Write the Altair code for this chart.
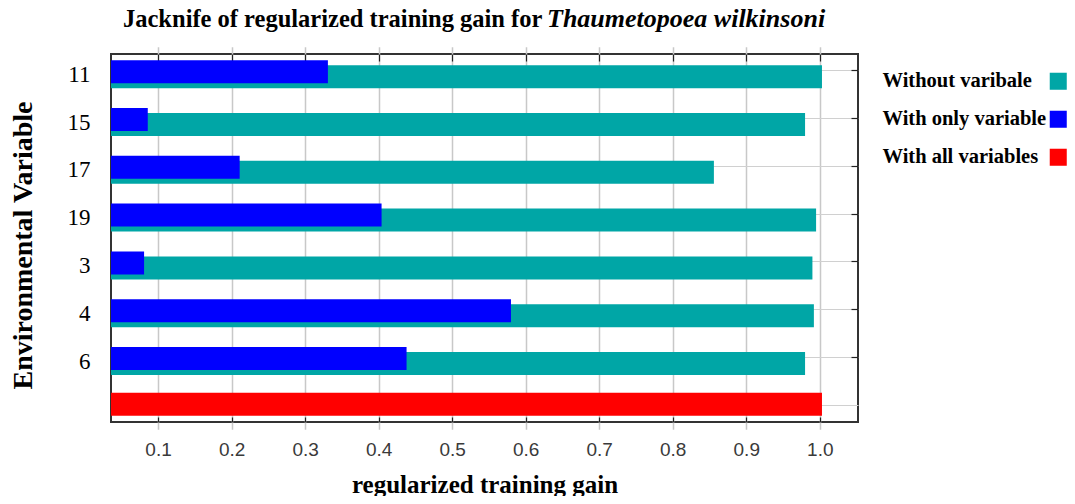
import altair as alt
import pandas as pd

# ---- data ----
variables = ["11", "15", "17", "19", "3", "4", "6"]
without_variable = [1.003, 0.980, 0.856, 0.995, 0.990, 0.992, 0.980]
with_only_variable = [0.331, 0.086, 0.211, 0.404, 0.081, 0.580, 0.438]
all_row = "all"
with_all_variables = [1.003]
series_names = ["Without varibale", "With only variable", "With all variables"]
series_colors = ["#00A6A6", "#0000FF", "#FF0000"]
x_ticks = [0.1, 0.2, 0.3, 0.4, 0.5, 0.6, 0.7, 0.8, 0.9, 1.0]
title_main = "Jacknife of regularized training gain for"
title_species = "Thaumetopoea wilkinsoni"
x_title = "regularized training gain"
y_title = "Environmental Variable"

rows = variables + [all_row]
records = []
for v, w in zip(variables, without_variable):
    records.append({"row": v, "gain": w, "series": series_names[0]})
for v, w in zip(variables, with_only_variable):
    records.append({"row": v, "gain": w, "series": series_names[1]})
for w in with_all_variables:
    records.append({"row": all_row, "gain": w, "series": series_names[2]})
df = pd.DataFrame(records)

SERIF = "Liberation Serif"
SANS = "Liberation Sans"

x_scale = alt.Scale(domain=[0.036, 1.052], nice=False, zero=False)
# bands slightly larger than the frame (top and bottom rows are cut by the frame)
y_scale = alt.Scale(domain=rows, range=[-7.2, 375.2], paddingOuter=0, paddingInner=0)
color = alt.Color(
    "series:N",
    scale=alt.Scale(domain=series_names, range=series_colors),
    sort=series_names,
    legend=alt.Legend(
        title=None, orient="none", legendX=937, legendY=17, padding=0,
        symbolType="square", symbolSize=290, symbolStrokeWidth=0, symbolOpacity=1,
        labelFont=SERIF, labelFontWeight="bold", labelFontSize=20.5, labelColor="black",
        labelAlign="left", labelOffset={"expr": "-186"}, labelLimit=400, rowPadding=17,
    ),
)

x_main_axis = alt.Axis(
    values=x_ticks, format=".1f", title=x_title, grid=True, gridColor="#c8c8c8",
    gridWidth=1.5, ticks=False, tickSize=0, domain=False,
    labelFont=SANS, labelFontSize=19, labelColor="#3a3a3a", labelPadding=33,
    labelBaseline="alphabetic",
    titleFont=SERIF, titleFontSize=25, titleFontWeight="bold", titleColor="black",
    titleBaseline="alphabetic", titleY=70,
)
y_main_axis = alt.Axis(
    title=y_title, grid=True, gridColor="#d0d0d0", gridWidth=1.2, bandPosition=0.5,
    ticks=False, tickSize=0, domain=False,
    labelExpr="datum.value == 'all' ? '' : datum.value",
    labelFont=SERIF, labelFontSize=23, labelColor="black", labelPadding=21,
    labelBaseline="middle", labelOffset=4,
    titleFont=SERIF, titleFontSize=28, titleFontWeight="bold", titleColor="black",
    titleBaseline="alphabetic", titleX=-80, titleY=191,
)

base = alt.Chart(df)

teal = base.transform_filter(alt.datum.series == series_names[0]).mark_bar(
    size=23, yOffset=6, clip=True
).encode(
    x=alt.X("gain:Q", scale=x_scale, axis=x_main_axis),
    y=alt.Y("row:N", scale=y_scale, sort=rows, axis=y_main_axis),
    color=color,
)

blue = base.transform_filter(alt.datum.series == series_names[1]).mark_bar(
    size=23, yOffset=1, clip=True
).encode(
    x=alt.X("gain:Q", scale=x_scale, axis=None),
    y=alt.Y("row:N", scale=y_scale, sort=rows, axis=None),
    color=color,
)

red = base.transform_filter(alt.datum.series == series_names[2]).mark_bar(
    size=23, yOffset=-1, clip=True
).encode(
    x=alt.X("gain:Q", scale=x_scale, axis=None),
    y=alt.Y("row:N", scale=y_scale, sort=rows, axis=None),
    color=color,
)

# inward tick marks on the top and right edges of the frame
ticks_tr = base.mark_point(opacity=0).encode(
    x=alt.X("gain:Q", scale=x_scale, axis=alt.Axis(
        orient="top", values=x_ticks, labels=False, title=None, grid=False,
        domain=False, ticks=True, tickSize=7, tickColor="#222", tickWidth=1.2,
        offset={"expr": "-7"})),
    y=alt.Y("row:N", scale=y_scale, sort=rows, axis=alt.Axis(
        orient="right", labels=False, title=None, grid=False, domain=False,
        ticks=True, tickSize=7, tickColor="#222", tickWidth=1.2,
        offset={"expr": "-7"}, bandPosition=0.5, values=variables)),
)
# inward tick marks on the bottom edge
ticks_b = base.mark_point(opacity=0).encode(
    x=alt.X("gain:Q", scale=x_scale, axis=alt.Axis(
        orient="bottom", values=x_ticks, labels=False, title=None, grid=False,
        domain=False, ticks=True, tickSize=5, tickColor="#222", tickWidth=1.2,
        offset={"expr": "-5"})),
    y=alt.Y("row:N", scale=y_scale, sort=rows, axis=None),
)

title1 = alt.Chart(pd.DataFrame({"t": [title_main]})).mark_text(
    align="left", baseline="alphabetic", font=SERIF, fontWeight="bold",
    fontSize=24.5, color="black"
).encode(text="t:N", x=alt.value(12), y=alt.value(-27))

title2 = alt.Chart(pd.DataFrame({"t": [title_species]})).mark_text(
    align="left", baseline="alphabetic", font=SERIF, fontWeight="bold",
    fontStyle="italic", fontSize=26, color="black"
).encode(text="t:N", x=alt.value(436), y=alt.value(-27))

chart = alt.layer(teal, blue, red, ticks_tr, ticks_b, title1, title2).resolve_scale(
    x="shared", y="shared", color="shared"
).resolve_axis(
    x="independent", y="independent"
).properties(
    width=747, height=368,
    background="white",
    autosize=alt.AutoSizeParams(type="none"),
    padding={"left": 103, "top": 46, "right": 209, "bottom": 74},
).configure_view(
    stroke="#333333", strokeWidth=2
)

chart.save("out.html", embed_options={"renderer": "svg", "actions": False})
